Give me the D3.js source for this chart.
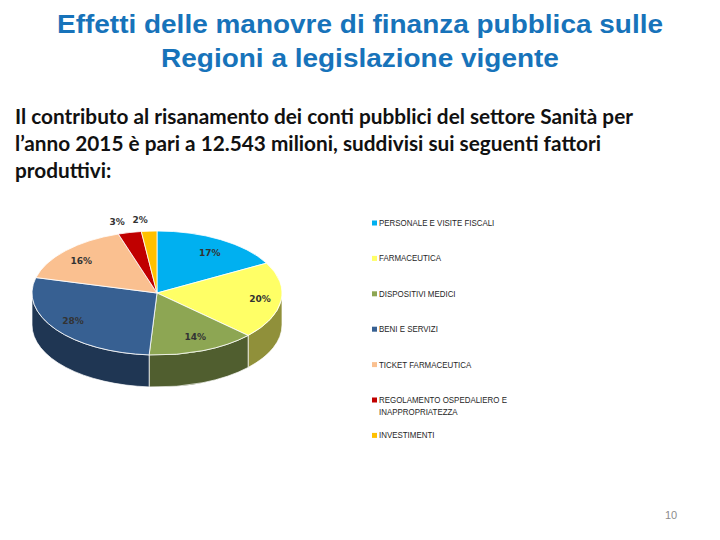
<!DOCTYPE html>
<html>
<head>
<meta charset="utf-8">
<script src="https://cdn.jsdelivr.net/npm/d3@7"></script>
<style>
  html, body { margin: 0; padding: 0; background: #fff; }
  svg { display: block; }
</style>
</head>
<body>
<div id="chart"></div>
<script>
(function () {
  "use strict";

  // data
  let titleLines = ['Effetti delle manovre di finanza pubblica sulle', 'Regioni a legislazione vigente']
  let bodyLines = [
    'Il contributo al risanamento dei conti pubblici del settore Sanità per',
    'l\u2019anno 2015 è pari a 12.543 milioni, suddivisi sui seguenti fattori',
    'produttivi:'
  ]
  let categories = [
    'PERSONALE  E VISITE FISCALI',
    'FARMACEUTICA',
    'DISPOSITIVI MEDICI',
    'BENI E SERVIZI',
    'TICKET FARMACEUTICA',
    'REGOLAMENTO OSPEDALIERO E INAPPROPRIATEZZA',
    'INVESTIMENTI'
  ]
  let values = [17, 20, 14, 28, 16, 3, 2]
  let colors = ['#00b0f0', '#ffff66', '#8da653', '#376092', '#fac090', '#c00000', '#ffc000']
  let pageNumber = '10'

  let W = 720, H = 540
  let svg = d3.select('#chart').append('svg')
    .attr('width', W).attr('height', H)

  svg.append('rect').attr('width', W).attr('height', H).attr('fill', '#fff')

  // squeeze a set of lines by the same factor so the first one fits targetWidth
  function fitLines(sel, targetWidth){
    let nodes = sel.nodes()
    let k = targetWidth / nodes[0].getComputedTextLength()
    nodes.forEach(function(n){
      let len = n.getComputedTextLength()
      n.setAttribute('textLength', len * k)
      n.setAttribute('lengthAdjust', 'spacingAndGlyphs')
    })
  }

  // title
  let title = svg.append('g').selectAll('text')
    .data(titleLines).enter().append('text')
      .attr('x', 360)
      .attr('y', function(d,i){ return 33 + i*34 })
      .attr('text-anchor', 'middle')
      .attr('font-family', 'Liberation Sans, Arial, sans-serif')
      .attr('font-weight', 'bold')
      .attr('font-size', 26)
      .attr('fill', '#1773ba')
      .text(function(d){ return d })
  fitLines(title, 606)

  // body text
  let body = svg.append('g').selectAll('text')
    .data(bodyLines).enter().append('text')
      .attr('x', 15)
      .attr('y', function(d,i){ return 124 + i*27 })
      .attr('font-family', 'Lato, Open Sans, sans-serif')
      .attr('font-weight', 'bold')
      .attr('font-size', 20)
      .attr('fill', '#111')
      .text(function(d){ return d })
  fitLines(body, 618)

  // 3d pie
  let cx = 157, cy = 293, rx = 125, ry = 62, depth = 32
  let pie = d3.pie().sort(null).startAngle(0).endAngle(2*Math.PI)
  let arcs = pie(values)

  function pt(a, dy){
    return [cx + rx*Math.sin(a), cy - ry*Math.cos(a) + (dy || 0)]
  }

  function sidePath(a0, a1){
    let p0 = pt(a0), p1 = pt(a1), q1 = pt(a1, depth), q0 = pt(a0, depth)
    return 'M' + p0 + 'A' + rx + ',' + ry + ' 0 0 1 ' + p1 +
      'L' + q1 + 'A' + rx + ',' + ry + ' 0 0 0 ' + q0 + 'Z'
  }

  function topPath(a0, a1){
    let p0 = pt(a0), p1 = pt(a1)
    let large = (a1 - a0) > Math.PI ? 1 : 0
    return 'M' + cx + ',' + cy + 'L' + p0 + 'A' + rx + ',' + ry + ' 0 ' + large + ' 1 ' + p1 + 'Z'
  }

  let pieG = svg.append('g')

  // front walls: only the part between 90 and 270 degrees shows
  let walls = arcs.map(function(d, i){
    let a0 = Math.max(d.startAngle, Math.PI/2)
    let a1 = Math.min(d.endAngle, 3*Math.PI/2)
    return {a0: a0, a1: a1, i: i}
  }).filter(function(w){ return w.a1 > w.a0 })

  pieG.selectAll('path.wall')
    .data(walls).enter().append('path')
      .attr('class', 'wall')
      .attr('d', function(w){ return sidePath(w.a0, w.a1) })
      .attr('fill', function(w){ return d3.color(colors[w.i]).darker(1.6) })
      .attr('stroke', '#fff')
      .attr('stroke-width', 0.7)

  pieG.selectAll('path.top')
    .data(arcs).enter().append('path')
      .attr('class', 'top')
      .attr('d', function(d){ return topPath(d.startAngle, d.endAngle) })
      .attr('fill', function(d,i){ return colors[i] })
      .attr('stroke', '#fff')
      .attr('stroke-width', 0.8)

  // percentage labels
  pieG.selectAll('text.pct')
    .data(arcs).enter().append('text')
      .attr('class', 'pct')
      .each(function(d){
        let a = (d.startAngle + d.endAngle)/2
        let inside = d.value >= 5
        let fx = inside ? 0.83 : 1.18, fy = inside ? 0.76 : 1.18
        let x = cx + rx*fx*Math.sin(a), y = cy - ry*fy*Math.cos(a)
        d3.select(this)
          .attr('x', x).attr('y', y).attr('dy', '0.35em')
          .attr('text-anchor', inside ? 'middle' : (x < cx ? 'end' : 'start'))
      })
      .attr('font-family', 'DejaVu Sans, Verdana, sans-serif')
      .attr('font-weight', 'bold')
      .attr('font-size', 9)
      .attr('fill', '#333')
      .text(function(d){ return d.value + '%' })

  // legend
  let legend = svg.append('g').attr('transform', 'translate(372,226)')
  let item = legend.selectAll('g')
    .data(categories).enter().append('g')
      .attr('transform', function(d,i){ return 'translate(0,' + (i*35.4) + ')' })

  item.append('rect')
    .attr('x', 0).attr('y', -5.5)
    .attr('width', 5).attr('height', 5)
    .attr('fill', function(d,i){ return colors[i] })

  item.append('text')
    .attr('x', 7)
    .attr('font-family', 'Liberation Sans, Arial, sans-serif')
    .attr('font-size', 9)
    .attr('fill', '#262626')
    .each(function(d){
      // simple word wrap, then squeeze a bit like the narrow font of the slide
      let t = d3.select(this)
      let words = d.split(' ')
      let line = ''
      let tspan = t.append('tspan').attr('x', 7).attr('dy', 0)
      words.forEach(function(w){
        let test = line === '' ? w : line + ' ' + w
        tspan.text(test)
        if (tspan.node().getComputedTextLength() > 150 && line !== ''){
          tspan.text(line)
          line = w
          tspan = t.append('tspan').attr('x', 7).attr('dy', 11.5).text(w)
        } else {
          line = test
        }
      })
      t.selectAll('tspan').each(function(){
        let len = this.getComputedTextLength()
        this.setAttribute('textLength', len * 0.88)
        this.setAttribute('lengthAdjust', 'spacingAndGlyphs')
      })
    })

  // page number
  svg.append('text')
    .attr('x', 671).attr('y', 519)
    .attr('text-anchor', 'middle')
    .attr('font-family', 'Liberation Sans, Arial, sans-serif')
    .attr('font-size', 11)
    .attr('fill', '#8c8c8c')
    .text(pageNumber)

}());
</script>
</body>
</html>
